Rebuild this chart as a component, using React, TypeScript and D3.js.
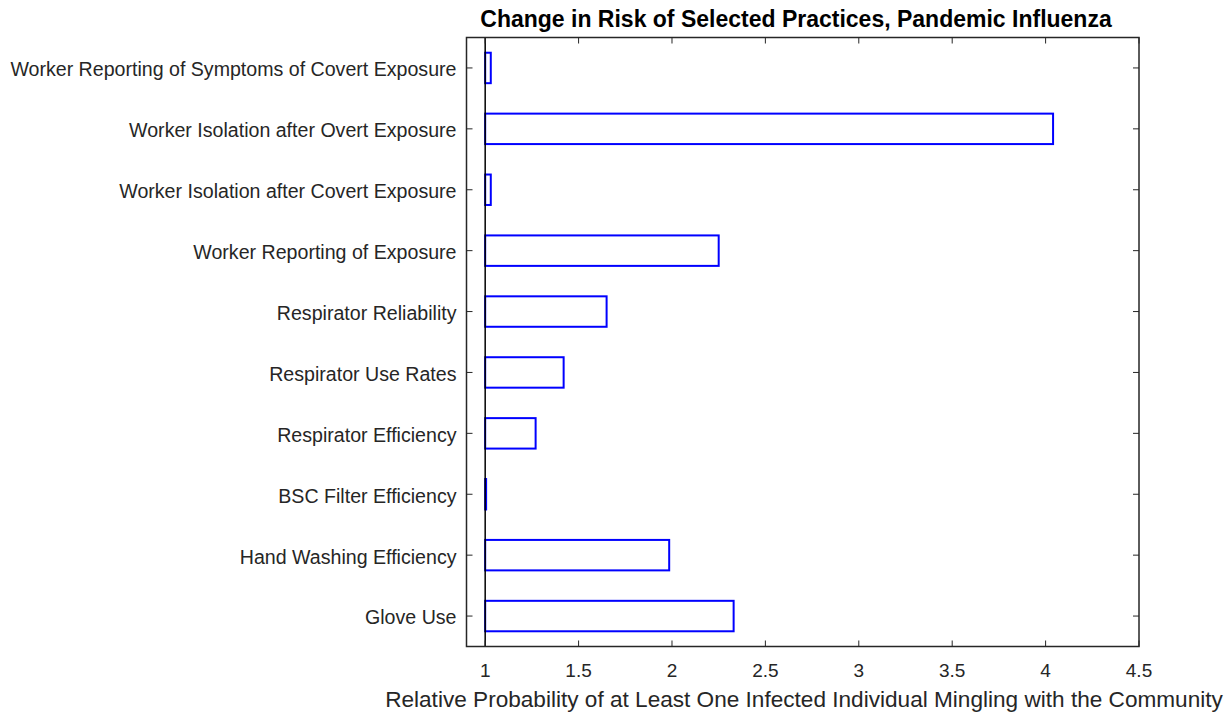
import React from "react";
import * as d3 from "d3";

const categories = [
  "Glove Use",
  "Hand Washing Efficiency",
  "BSC Filter Efficiency",
  "Respirator Efficiency",
  "Respirator Use Rates",
  "Respirator Reliability",
  "Worker Reporting of Exposure",
  "Worker Isolation after Covert Exposure",
  "Worker Isolation after Overt Exposure",
  "Worker Reporting of Symptoms of Covert Exposure",
];
const values = [2.33, 1.985, 1.005, 1.27, 1.42, 1.65, 2.25, 1.03, 4.04, 1.03];
const xTicks = [1, 1.5, 2, 2.5, 3, 3.5, 4, 4.5];
const xTickLabels = ["1", "1.5", "2", "2.5", "3", "3.5", "4", "4.5"];

const W = 1225;
const H = 714;
const M = { left: 466.5, right: 1139, top: 37.5, bottom: 646.5 };
const AX = "#262626";
const FONT = "'Liberation Sans', Arial, Helvetica, sans-serif";

export default function App() {
  const x = d3.scaleLinear().domain([0.9, 4.5]).range([M.left, M.right]);
  const y = d3.scaleLinear().domain([0.5, 10.5]).range([M.bottom, M.top]);
  const bw = 0.5;
  const tl = 6;
  return (
    <svg
      width={W}
      height={H}
      style={{ position: "absolute", left: 0, top: 0, background: "#fff" }}
      fontFamily={FONT}
    >
      <rect x={0} y={0} width={W} height={H} fill="#fff" />
      {categories.map((c, i) => {
        const v = values[i];
        const x0 = x(1);
        const x1 = x(v);
        return (
          <rect
            key={c}
            x={Math.min(x0, x1)}
            y={y(i + 1 + bw / 2)}
            width={Math.abs(x1 - x0)}
            height={y(i + 1 - bw / 2) - y(i + 1 + bw / 2)}
            fill="none"
            stroke="#0000ff"
            strokeWidth={2}
          />
        );
      })}
      <line x1={x(1)} x2={x(1)} y1={M.top} y2={M.bottom} stroke="#000" strokeWidth={1.5} />
      <rect
        x={M.left}
        y={M.top}
        width={M.right - M.left}
        height={M.bottom - M.top}
        fill="none"
        stroke={AX}
        strokeWidth={1.5}
      />
      {xTicks.map((t, i) => (
        <g key={"xt" + i}>
          <line x1={x(t)} x2={x(t)} y1={M.bottom} y2={M.bottom - tl} stroke={AX} />
          <line x1={x(t)} x2={x(t)} y1={M.top} y2={M.top + tl} stroke={AX} />
          <text
            x={x(t)}
            y={677}
            textAnchor="middle"
            fontSize={19}
            fill={AX}
          >
            {xTickLabels[i]}
          </text>
        </g>
      ))}
      {categories.map((c, i) => (
        <g key={"yt" + i}>
          <line x1={M.left} x2={M.left + tl} y1={y(i + 1)} y2={y(i + 1)} stroke={AX} />
          <line x1={M.right} x2={M.right - tl} y1={y(i + 1)} y2={y(i + 1)} stroke={AX} />
          <text
            x={M.left - 10}
            y={y(i + 1) + 1.5}
            dy="0.35em"
            textAnchor="end"
            fontSize={19.6}
            fill={AX}
          >
            {c}
          </text>
        </g>
      ))}
      <text
        x={796}
        y={27}
        textAnchor="middle"
        fontSize={23}
        fontWeight="bold"
        fill="#000"
      >
        Change in Risk of Selected Practices, Pandemic Influenza
      </text>
      <text
        x={804}
        y={707}
        textAnchor="middle"
        fontSize={22.6}
        fill={AX}
      >
        Relative Probability of at Least One Infected Individual Mingling with the Community
      </text>
    </svg>
  );
}
